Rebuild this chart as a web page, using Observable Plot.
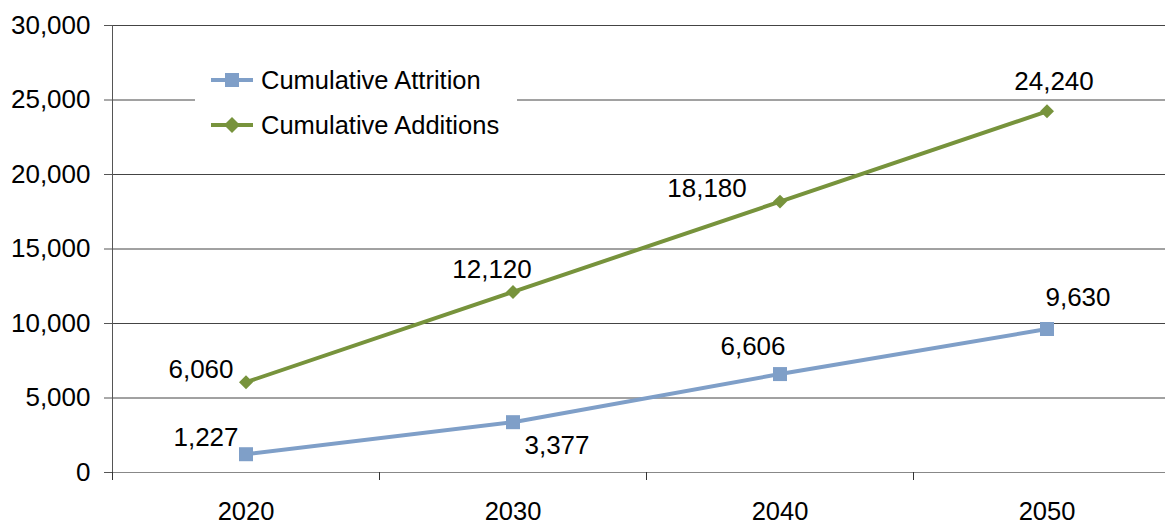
<!DOCTYPE html>
<html><head><meta charset="utf-8">
<script src="https://cdn.jsdelivr.net/npm/d3@7"></script>
<script src="https://cdn.jsdelivr.net/npm/@observablehq/plot@0.6"></script>
<style>
body{margin:0;background:#fff;font-family:"Liberation Sans",Arial,sans-serif;}
#wrap{position:relative;width:1167px;height:525px;overflow:hidden;}
#legend{position:absolute;left:195px;top:57px;width:322px;height:91px;background:#fff;}
.item{position:absolute;left:16px;height:30px;display:flex;align-items:center;font-size:25.5px;color:#000;white-space:nowrap;}
.item svg{margin-right:8px;}
</style></head><body>
<div id="wrap"><div id="chart"></div><div id="legend"></div></div>
<script>
// ---- data ----
const years = [2020, 2030, 2040, 2050];
const attrition = [1227, 3377, 6606, 9630];
const additions = [6060, 12120, 18180, 24240];
const seriesNames = ["Cumulative Attrition", "Cumulative Additions"];
const yTicks = [0, 5000, 10000, 15000, 20000, 25000, 30000];
const categoryBounds = [2015, 2025, 2035, 2045];

// ---- presentation ----
const colors = {"Cumulative Attrition": "#7F9FC8", "Cumulative Additions": "#77933C"};
// label offsets (px) relative to each point, per series in year order
const labelOffsets = {
  "Cumulative Attrition": [[-40, -17], [44, 23], [-27, -27], [31, -31]],
  "Cumulative Additions": [[-45, -13], [-21, -22], [-73, -13], [7, -30]]
};

const rows = [];
years.forEach((yr, i) => rows.push({series: seriesNames[0], year: yr, value: attrition[i], i}));
years.forEach((yr, i) => rows.push({series: seriesNames[1], year: yr, value: additions[i], i}));

const fmt = d3.format(",");
const FS = 26;

const labelMarks = rows.map(r => {
  const [dx, dy] = labelOffsets[r.series][r.i];
  return Plot.text([r], {x: "year", y: "value", text: d => fmt(d.value), dx, dy,
    fontSize: FS, fill: "#000", textAnchor: "middle"});
});

const chart = Plot.plot({
  width: 1167,
  height: 525,
  marginTop: 25,
  marginBottom: 53,
  marginLeft: 112,
  marginRight: 2,
  style: {fontFamily: '"Liberation Sans", Arial, sans-serif', fontSize: FS + "px", color: "#000", background: "#fff"},
  x: {domain: [2015, 2055], range: [112, 1180]},
  y: {domain: [0, 30000], range: [472, 25]},
  marks: [
    Plot.gridY(yTicks, {stroke: "#444", strokeOpacity: 1}),
    Plot.ruleY([0], {stroke: "#888"}),
    Plot.ruleX([2015], {y1: 0, y2: 30000, stroke: "#555"}),
    Plot.axisY({ticks: yTicks, tickSize: 8, tickPadding: 14, tickFormat: fmt, fontSize: FS, stroke: "#555", label: null}),
    Plot.axisX({ticks: categoryBounds, tickSize: 8, tickFormat: () => "", stroke: "#333", label: null}),
    Plot.axisX({ticks: years, tickSize: 0, tickPadding: 29, tickFormat: d => String(d), fontSize: 25.5, label: null}),
    Plot.line(rows, {x: "year", y: "value", z: "series", stroke: d => colors[d.series], strokeWidth: 4}),
    Plot.dot(rows.filter(d => d.series === seriesNames[0]), {x: "year", y: "value", symbol: "square", r: 7.9, fill: colors[seriesNames[0]], stroke: "none"}),
    Plot.dot(rows.filter(d => d.series === seriesNames[1]), {x: "year", y: "value", symbol: d3.symbolDiamond2, r: 6.3, fill: colors[seriesNames[1]], stroke: "none"}),
    ...labelMarks
  ]
});
document.getElementById("chart").appendChild(chart);

// legend
const legend = document.getElementById("legend");
seriesNames.forEach((name, k) => {
  const div = document.createElement("div");
  div.className = "item";
  div.style.top = (k === 0 ? 8 : 53) + "px";
  const c = colors[name];
  const marker = k === 0
    ? `<rect x="14" y="7" width="14" height="14" fill="${c}"/>`
    : `<path d="M21,6 L29,14 L21,22 L13,14 Z" fill="${c}"/>`;
  div.innerHTML = `<svg width="42" height="28"><line x1="0" y1="14" x2="42" y2="14" stroke="${c}" stroke-width="4"/>${marker}</svg><span>${name}</span>`;
  legend.appendChild(div);
});
</script>
</body></html>
